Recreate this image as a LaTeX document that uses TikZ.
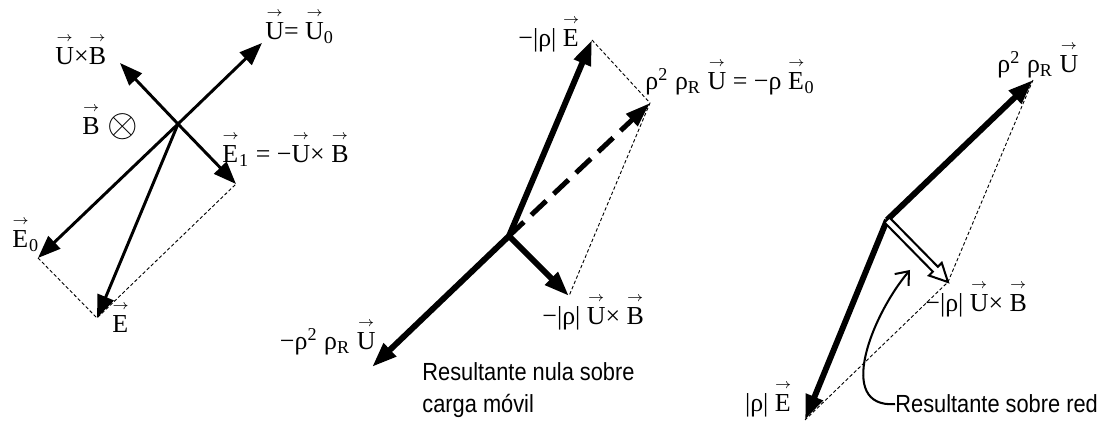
\documentclass[tikz,border=0pt]{standalone}
\usepackage{fontspec}
\setmainfont{Liberation Serif}
\setsansfont{Liberation Sans}
\usepackage{amsmath}
\usepackage{graphicx}
\usetikzlibrary{arrows.meta,positioning,calc}
\newcommand{\vv}[1]{\ooalign{#1\cr\hfil\raisebox{0.9em}{$\scriptscriptstyle\rightarrow$}\hfil\cr}}
\newcommand{\narrow}[1]{\scalebox{0.88}[1]{#1}}

\begin{document}
\begin{tikzpicture}[x=0.44pt,y=0.44pt,font=\fontsize{11.4}{13}\selectfont,
  vec/.style={line width=1.3pt,-{Triangle[length=10pt,width=7.5pt]}},
  bigvec/.style={line width=2.6pt,-{Triangle[length=11pt,width=7.5pt]}},
  guide/.style={line width=0.4pt,dash pattern=on 1.5pt off 1pt},
  lbl/.style={inner sep=0pt}]
\useasboundingbox (0,0) rectangle (1099,425);

% left: fields seen in the lab
\coordinate (O1) at (178,301);
\coordinate (U1) at (262,382);
\coordinate (UB1) at (120,362);
\coordinate (E11) at (236,241);
\coordinate (E01) at (38,167);
\coordinate (E1) at (97,107);
\draw[guide] (E01) -- (E1) -- (E11);
\draw[vec] (O1) -- (U1);
\draw[vec] (O1) -- (UB1);
\draw[vec] (O1) -- (E11);
\draw[vec] (O1) -- (E01);
\draw[vec] (O1) -- (E1);
\node[lbl,anchor=base west] (lU1) at (265,385) {\vv{U}= \vv{U}\textsubscript{0}};
\node[lbl,anchor=base west] (lUB1) at (55,360) {\vv{U}×\vv{B}};
\node[lbl,anchor=base west] (lB1) at (82,290) {\vv{B}};
\node[lbl] (otimes) at (123,298) {\LARGE$\otimes$};
\node[lbl,anchor=base west] (lE11) at (222,262) {\vv{E}\textsubscript{1} = −\vv{U}× \vv{B}};
\node[lbl,anchor=base west] (lE01) at (12,177) {\vv{E}\textsubscript{0}};
\node[lbl,anchor=base west] (lE1) at (112,92) {\vv{E}};

% middle: forces on the moving charge
\coordinate (O2) at (509,189);
\coordinate (mE2) at (592,385);
\coordinate (R2) at (650,322);
\coordinate (mUB2) at (569,129);
\coordinate (mU2) at (372,58);
\draw[guide] (mE2) -- (R2) -- (mUB2);
\draw[bigvec] (O2) -- (mE2);
\draw[bigvec] (O2) -- (mUB2);
\draw[bigvec] (O2) -- (mU2);
\draw[line width=2.2pt,dash pattern=on 9pt off 4.5pt,-{Triangle[length=11pt,width=7pt]}] (O2) -- (R2);
\node[lbl,anchor=base east] (lmE2) at (580,378) {−|ρ| \vv{E}};
\node[lbl,anchor=base west] (lR2) at (645,335) {ρ\textsuperscript{2} ρ\textsubscript{R} \vv{U} = −ρ \vv{E}\textsubscript{0}};
\node[lbl,anchor=base west] (lmUB2) at (542,100) {−|ρ| \vv{U}× \vv{B}};
\node[lbl,anchor=base east] (lmU2) at (376,75) {−ρ\textsuperscript{2} ρ\textsubscript{R} \vv{U}};
\node[lbl,anchor=north west,align=left,font=\sffamily\fontsize{10.9}{14}\selectfont] (nula) at (422,63) {\narrow{Resultante nula sobre}\\\narrow{carga móvil}};

% right: forces on the lattice
\coordinate (O3) at (887,205);
\coordinate (U3) at (1033,345);
\coordinate (E3) at (805,5);
\coordinate (H3) at (948,143);
\draw[guide] (U3) -- (H3) -- (E3);
\draw[bigvec] (O3) -- (U3);
\draw[bigvec] (O3) -- (E3);
\begin{scope}[shift={(O3)},rotate=-45.5]
\draw[line width=0.9pt,fill=white] (0,-3.5) -- (69,-3.5) -- (69,-9) -- (87,0) -- (69,9) -- (69,3.5) -- (0,3.5) -- cycle;
\end{scope}
\node[lbl,anchor=base west] (lU3) at (997,352) {ρ\textsuperscript{2} ρ\textsubscript{R} \vv{U}};
\node[lbl,anchor=base west] (lH3) at (925,113) {−|ρ| \vv{U}× \vv{B}};
\node[lbl,anchor=base east] (lE3) at (792,13) {|ρ| \vv{E}};
\node[lbl,anchor=base west,font=\sffamily\fontsize{10.9}{13}\selectfont] (red) at (895,12) {\narrow{Resultante sobre red}};
\coordinate (C3) at (910,155);
\draw[line width=0.9pt,-{Straight Barb[length=5pt,width=8pt]}] (red.west) .. controls (835,17) and (872,110) .. (C3);
\end{tikzpicture}
\end{document}
